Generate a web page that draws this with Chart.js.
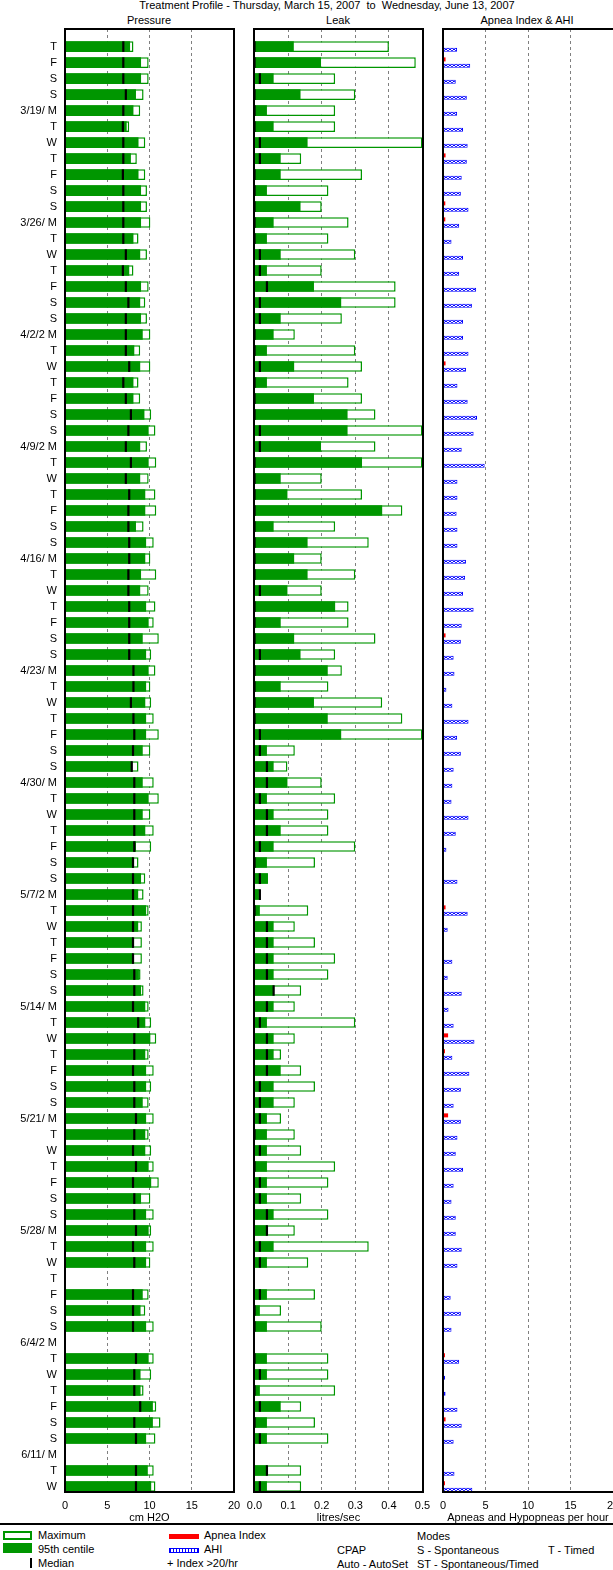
<!DOCTYPE html>
<html>
<head>
<meta charset="utf-8">
<script src="https://cdn.jsdelivr.net/npm/chart.js@4.4.1/dist/chart.umd.min.js"></script>
<style>
  html, body { margin:0; padding:0; background:#fff; }
  body { position:relative; width:613px; height:1570px; overflow:hidden; font-family:"Liberation Sans", Arial, sans-serif; font-size:11px; color:#000; }
  canvas { position:absolute; top:0; }
  .t { position:absolute; white-space:pre; line-height:13px; font-size:11px; }
  .box { position:absolute; top:28px; height:1465px; border:2px solid #000; box-sizing:border-box; z-index:5; }
  .c { text-align:center; width:240px; }
</style>
</head>
<body>
<div class="t" style="left:27px;width:600px;text-align:center;top:-1px;">Treatment Profile - Thursday, March 15, 2007  to  Wednesday, June 13, 2007</div>
<div class="t c" style="left:29px;top:13.5px;">Pressure</div>
<div class="t c" style="left:218px;top:13.5px;">Leak</div>
<div class="t c" style="left:407px;top:13.5px;">Apnea Index &amp; AHI</div>

<canvas id="cP" width="250" height="1525" style="left:0px;"></canvas>
<canvas id="cL" width="200" height="1525" style="left:240px;"></canvas>
<canvas id="cA" width="210" height="1525" style="left:430px;"></canvas>

<div class="box" style="left:64px;width:171px;"></div>
<div class="box" style="left:253px;width:171px;"></div>
<div class="box" style="left:442px;width:174px;"></div>

<div style="position:absolute;left:0;top:1523px;width:613px;height:2px;background:#000;z-index:6;"></div>

<div style="position:absolute;left:3px;top:1531px;width:29px;height:9px;border:2px solid #009600;box-sizing:border-box;background:#fff;"></div>
<div style="position:absolute;left:3px;top:1543px;width:29px;height:10px;background:#009600;"></div>
<div style="position:absolute;left:30px;top:1558px;width:2px;height:10px;background:#000;"></div>
<div style="position:absolute;left:169px;top:1534px;width:30px;height:5px;background:#ff0000;"></div>
<div style="position:absolute;left:169px;top:1548px;width:30px;height:5px;border:1px solid #0000ff;box-sizing:border-box;background:repeating-linear-gradient(90deg,#0000ff 0 1px,#ffffff 1px 3px);"></div>

<div class="t" style="left:38px;top:1529.3px;">Maximum</div>
<div class="t" style="left:38px;top:1543px;">95th centile</div>
<div class="t" style="left:38px;top:1557px;">Median</div>
<div class="t" style="left:204px;top:1529.3px;">Apnea Index</div>
<div class="t" style="left:204px;top:1543px;">AHI</div>
<div class="t" style="left:167px;top:1557px;">+ Index &gt;20/hr</div>
<div class="t" style="left:417px;top:1529.5px;">Modes</div>
<div class="t" style="left:337px;top:1543.5px;">CPAP</div>
<div class="t" style="left:417px;top:1543.5px;">S - Spontaneous</div>
<div class="t" style="left:548px;top:1543.5px;">T - Timed</div>
<div class="t" style="left:337px;top:1557.5px;">Auto - AutoSet</div>
<div class="t" style="left:417px;top:1557.5px;">ST - Spontaneous/Timed</div>

<script>
// ---------- DATA ----------
const dayLabels = ['T','F','S','S',
 '3/19/ M','T','W','T','F','S','S',
 '3/26/ M','T','W','T','F','S','S',
 '4/2/2 M','T','W','T','F','S','S',
 '4/9/2 M','T','W','T','F','S','S',
 '4/16/ M','T','W','T','F','S','S',
 '4/23/ M','T','W','T','F','S','S',
 '4/30/ M','T','W','T','F','S','S',
 '5/7/2 M','T','W','T','F','S','S',
 '5/14/ M','T','W','T','F','S','S',
 '5/21/ M','T','W','T','F','S','S',
 '5/28/ M','T','W','T','F','S','S',
 '6/4/2 M','T','W','T','F','S','S',
 '6/11/ M','T','W'];

// Pressure (cm H2O)
const pressureMax = [8.1,9.9,9.9,9.3,8.9,7.6,9.5,8.5,9.5,9.7,9.7,10.1,8.7,9.7,8.1,9.9,9.5,9.7,10.1,8.9,
 10.1,8.7,8.9,10.2,10.7,9.7,10.8,9.9,10.7,10.8,9.3,10.5,10.1,10.8,9.9,10.7,10.5,11.1,10.2,10.7,
 10.1,10.2,10.5,11.1,10.1,8.7,10.5,11.1,10.1,10.5,10.2,8.7,9.5,9.3,9.9,9.1,9.1,9.1,8.94,9.3,
 9.9,10.2,10.8,9.9,10.5,10.2,9.9,10.5,9.9,10.2,10.5,11.1,10.1,10.5,10.2,10.5,10.1,null,9.9,9.5,
 10.5,null,10.5,10.2,9.3,10.8,11.3,10.7,null,10.5,10.7];
const pressureP95 = [7.7,9.0,9.0,8.4,8.1,7.3,8.7,7.8,8.7,9.0,9.0,9.0,8.1,8.9,7.6,9.0,8.9,9.0,9.2,8.2,
 8.9,8.1,8.1,9.4,9.9,8.9,9.9,8.9,9.5,9.5,8.4,9.6,9.5,9.0,8.9,9.6,9.9,9.2,9.6,9.9,
 9.6,9.5,9.6,9.6,9.2,7.95,9.2,9.9,9.2,9.5,8.4,8.05,9.0,8.66,9.6,8.66,8.05,8.05,8.75,9.0,
 9.5,9.5,10.1,9.5,9.6,9.6,9.2,9.6,9.5,9.5,9.9,10.2,9.0,9.6,9.9,9.6,9.6,null,9.2,8.94,
 9.6,null,9.9,8.94,8.94,10.4,10.4,9.6,null,9.8,10.2];
const pressureMedian = [6.9,6.9,6.9,7.2,6.9,6.85,6.9,6.9,6.85,6.9,6.9,6.9,6.9,7.2,6.85,7.2,7.5,7.2,7.2,7.2,
 7.6,6.9,7.2,7.8,7.5,7.2,7.8,7.2,7.6,7.5,7.5,7.6,7.6,7.5,7.5,7.6,7.6,7.6,7.6,8.1,
 8.1,7.8,8.1,8.2,8.05,7.9,8.2,8.2,8.2,8.2,8.2,8.05,8.05,8.05,8.05,8.05,8.05,8.05,8.2,8.2,
 8.05,8.66,8.2,8.2,8.05,8.2,8.2,8.4,8.2,8.05,8.4,8.05,8.2,8.2,8.4,8.05,8.2,null,8.05,8.05,
 8.05,null,8.4,8.2,8.2,8.9,8.2,8.4,null,8.4,8.4];

// Leak (litres/sec)
const leakMax = [0.40,0.48,0.24,0.30,0.24,0.24,0.50,0.139,0.32,0.22,0.20,0.28,0.22,0.30,0.20,0.42,0.42,0.26,0.12,0.30,
 0.32,0.28,0.32,0.36,0.50,0.36,0.50,0.20,0.32,0.44,0.24,0.34,0.20,0.30,0.20,0.28,0.28,0.36,0.24,0.26,
 0.22,0.38,0.44,0.50,0.12,0.098,0.20,0.24,0.22,0.22,0.30,0.18,0.04,0.016,0.16,0.12,0.18,0.24,0.22,0.139,
 0.12,0.30,0.12,0.079,0.139,0.18,0.12,0.079,0.12,0.139,0.24,0.22,0.139,0.22,0.12,0.34,0.16,null,0.18,0.079,
 0.20,null,0.22,0.22,0.24,0.139,0.18,0.22,null,0.139,0.139];
const leakP95 = [0.117,0.198,0.057,0.137,0.037,0.057,0.158,0.078,0.078,0.037,0.137,0.057,0.037,0.078,0.037,0.177,0.258,0.078,0.057,0.037,
 0.118,0.037,0.177,0.277,0.277,0.198,0.32,0.078,0.098,0.38,0.057,0.158,0.118,0.158,0.098,0.24,0.078,0.118,0.137,0.218,
 0.078,0.177,0.218,0.258,0.037,0.057,0.098,0.037,0.057,0.078,0.057,0.037,0.04,0.013,0.016,0.057,0.057,0.057,0.057,0.057,
 0.057,0.037,0.057,0.057,0.078,0.057,0.057,0.037,0.037,0.037,0.037,0.037,0.037,0.057,0.037,0.057,0.037,null,0.037,0.016,
 0.037,null,0.037,0.037,0.016,0.078,0.037,0.037,null,0.037,0.037];
const leakMedian = [0,0,0.016,0,0,0,0.016,0.016,0,0,0,0,0,0.016,0.016,0.037,0.016,0.016,0,0,
 0.016,0,0,0,0.016,0.016,0,0,0,0,0,0,0,0,0.016,0,0,0,0.016,0,
 0,0,0,0.016,0.016,0.037,0.037,0.016,0.037,0.037,0.016,0,0.016,0.016,0,0.037,0.037,0.037,0.037,0.057,
 0.037,0.016,0.037,0.037,0.037,0.016,0.016,0.016,0,0.016,0,0.016,0.016,0.037,0.037,0.016,0.016,null,0.016,0,
 0,null,0,0.016,0,0.016,0,0.016,null,0.037,0.016];

// Apnea Index and AHI (events per hour)
const apneaIndex = [0,0.3,0,0,0,0,0.1,0.3,0,0.1,0.27,0.27,0,0,0,0,0,0,0,0,
 0.3,0,0,0,0,0,0,0,0,0.1,0,0,0,0,0,0,0,0.3,0,0.1,
 0,0,0,0,0,0,0,0,0,0,0,0,0.1,0,0.3,0,0,0.1,0.1,0,
 0,0,0.6,0.23,0,0,0,0.6,0,0,0,0.1,0,0,0,0,0.1,null,0,0,
 0.1,null,0.23,0,0,0.1,0.3,0,null,0,0.23];
const ahi = [1.66,3.2,1.5,2.8,1.66,2.35,2.9,2.8,2.2,2.1,3.0,1.9,1.0,2.35,1.9,3.9,3.4,2.35,2.35,3.0,
 2.7,1.7,2.9,4.0,3.6,2.2,4.9,1.7,1.7,1.6,1.7,1.7,2.7,2.6,2.35,3.6,2.2,2.1,1.25,1.35,
 0.4,1.1,3.0,1.66,2.1,1.25,1.1,1.0,3.0,1.5,0.4,0,1.7,0,2.9,0.55,0,1.1,0.55,2.2,
 0.65,1.25,3.7,1.1,3.1,2.1,1.25,2.1,1.7,1.5,2.35,1.25,1.0,1.5,1.5,2.2,1.7,null,0.9,2.1,
 1.0,null,1.9,0.25,0.3,1.7,2.2,1.25,null,1.35,3.45];

const pressureTicksMax = 20, leakTicksMax = 0.5, ahiTicksMax = 20;

// ---------- CHARTS ----------
Chart.defaults.font.family = '"Liberation Sans", Arial, sans-serif';
Chart.defaults.font.size = 11;
Chart.defaults.color = '#000';

const GREEN = '#009600';
const Y_MIN = -1.1, Y_MAX = 90.34;

const pts = arr => arr.map((v, i) => ({x: v, y: i})).filter(p => p.x !== null);

function makeHatch() {
  const c = document.createElement('canvas');
  c.width = 4; c.height = 2;
  const g = c.getContext('2d');
  g.fillStyle = '#ffffff'; g.fillRect(0, 0, 4, 2);
  g.fillStyle = '#0000ff';
  g.fillRect(1, 0, 2, 1); g.fillRect(0, 1, 1, 1); g.fillRect(3, 1, 1, 1);
  return g.createPattern(c, 'repeat');
}

function yScale(show) {
  return {
    type: 'linear', reverse: true, min: Y_MIN, max: Y_MAX, display: show,
    offset: false, grace: 0,
    afterBuildTicks: s => { s.ticks = dayLabels.map((_, i) => ({value: i})); },
    afterFit: s => { s.width = show ? 65 : 0; s.paddingTop = 0; s.paddingBottom = 0; },
    grid: {display: false, drawTicks: false, offset: false},
    border: {display: false},
    ticks: {autoSkip: false, padding: 8, color: '#000', font: {size: 11},
            callback: v => (dayLabels[v] !== undefined ? dayLabels[v] : '')}
  };
}

function xScale(max, step, title, fmt) {
  return {
    type: 'linear', min: 0, max: max, offset: false,
    afterFit: s => { s.height = 33; s.paddingLeft = 0; s.paddingRight = 0; },
    grid: {color: '#808080', lineWidth: 1, drawTicks: false},
    border: {display: false, dash: [3, 3]},
    ticks: {stepSize: step, padding: 7, color: '#000', font: {size: 11}, maxRotation: 0, autoSkip: false, callback: fmt},
    title: {display: true, text: title, color: '#000', font: {size: 11}, padding: {top: 0, bottom: 0}}
  };
}

function baseOptions(pad, showY, x) {
  return {
    indexAxis: 'y', responsive: false, animation: false, events: [],
    layout: {padding: pad, autoPadding: false},
    plugins: {legend: {display: false}, tooltip: {enabled: false}, title: {display: false}},
    scales: {x: x, y: yScale(showY)}
  };
}

function rangeDatasets(maxArr, p95Arr, medArr) {
  return [
    {type: 'scatter', data: pts(medArr), pointStyle: 'line', pointRotation: 90, pointRadius: 5.3,
     pointBorderColor: '#000', pointBorderWidth: 2.2, borderColor: '#000', showLine: false, order: 0},
    {type: 'bar', data: pts(p95Arr), backgroundColor: GREEN, borderWidth: 0, grouped: false,
     categoryPercentage: 1, barPercentage: 0.66, order: 1},
    {type: 'bar', data: pts(maxArr), backgroundColor: '#ffffff', borderColor: GREEN, borderWidth: 1.5,
     borderSkipped: false, grouped: false, categoryPercentage: 1, barPercentage: 0.66, order: 2}
  ];
}

new Chart(document.getElementById('cP'), {
  type: 'bar',
  data: {datasets: rangeDatasets(pressureMax, pressureP95, pressureMedian)},
  options: baseOptions({left: 0, top: 29, right: 16, bottom: 0}, true,
    xScale(pressureTicksMax, 5, 'cm H2O', v => String(v)))
});

new Chart(document.getElementById('cL'), {
  type: 'bar',
  data: {datasets: rangeDatasets(leakMax, leakP95, leakMedian)},
  options: baseOptions({left: 14.5, top: 29, right: 17.5, bottom: 0}, false,
    xScale(leakTicksMax, 0.1, 'litres/sec', v => Number(v).toFixed(1)))
});

const hatch = makeHatch();
new Chart(document.getElementById('cA'), {
  type: 'bar',
  data: {datasets: [
    {type: 'bar', data: pts(apneaIndex), backgroundColor: '#ff0000', borderWidth: 0,
     categoryPercentage: 0.8, barPercentage: 0.625},
    {type: 'bar', data: pts(ahi), backgroundColor: hatch, borderColor: '#0000ff', borderWidth: 1,
     borderSkipped: false, categoryPercentage: 0.8, barPercentage: 0.625}
  ]},
  options: baseOptions({left: 13, top: 29, right: 27, bottom: 0}, false,
    xScale(ahiTicksMax, 5, 'Apneas and Hypopneas per hour', v => String(v)))
});
</script>
</body>
</html>
